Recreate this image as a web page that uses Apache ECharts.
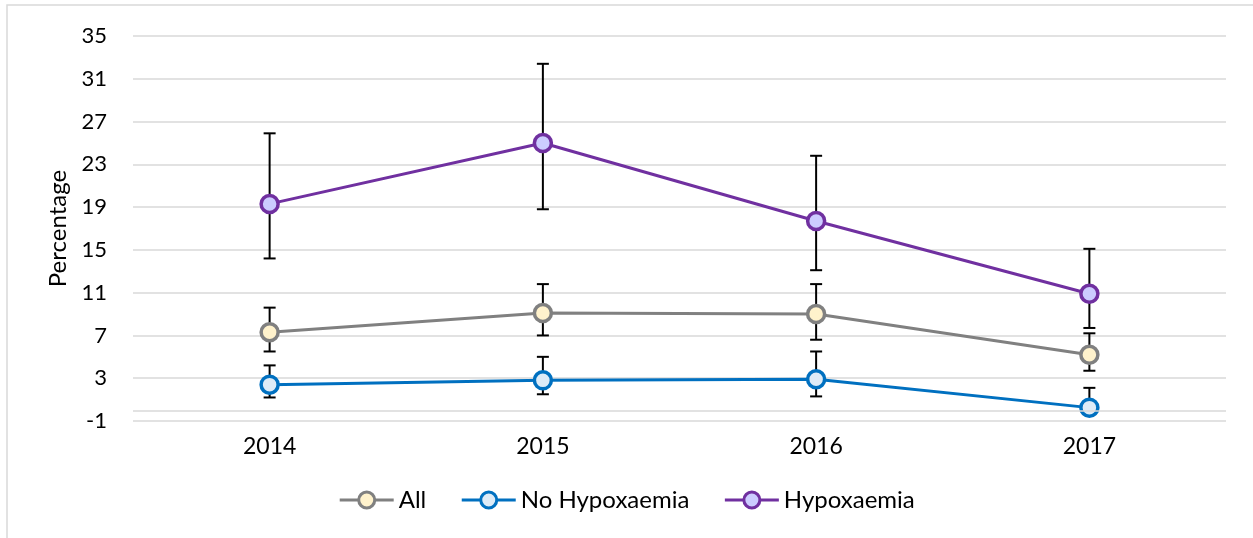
<!DOCTYPE html>
<html><head><meta charset="utf-8">
<script src="https://cdn.jsdelivr.net/npm/echarts@6/dist/echarts.min.js"></script>
<style>html,body{margin:0;padding:0;background:#fff}#c{width:1253px;height:538px}</style>
</head><body><div id="c"></div>
<script>
const categories = ['2014', '2015', '2016', '2017'];
const allValues = [7.3, 9.1, 9.0, 5.2];
const allLower = [5.5, 7.0, 6.6, 3.7];
const allUpper = [9.6, 11.8, 11.8, 7.2];
const noHypValues = [2.4, 2.8, 2.9, 0.25];
const noHypLower = [1.2, 1.5, 1.3, 0.0];
const noHypUpper = [4.2, 5.0, 5.5, 2.1];
const hypValues = [19.3, 25.0, 17.7, 10.9];
const hypLower = [14.2, 18.8, 13.1, 7.7];
const hypUpper = [25.9, 32.4, 23.8, 15.1];
const yTicks = [-1, 3, 7, 11, 15, 19, 23, 27, 31, 35];

const font = 'Lato, "Open Sans", sans-serif';
const chart = echarts.init(document.getElementById('c'));

function errData(lo, hi) { return categories.map((c, i) => [i, lo[i], hi[i]]); }
function errSeries(lo, hi) {
  return {
    type: 'custom', z: 1, silent: true,
    data: errData(lo, hi),
    renderItem: function (params, api) {
      const x = api.value(0);
      const p1 = api.coord([x, api.value(1)]);
      const p2 = api.coord([x, api.value(2)]);
      const hw = 6;
      const st = { stroke: '#000', lineWidth: 2 };
      return { type: 'group', children: [
        { type: 'line', shape: { x1: p1[0], y1: p1[1], x2: p2[0], y2: p2[1] }, style: st },
        { type: 'line', shape: { x1: p1[0] - hw, y1: p1[1], x2: p1[0] + hw, y2: p1[1] }, style: st },
        { type: 'line', shape: { x1: p2[0] - hw, y1: p2[1], x2: p2[0] + hw, y2: p2[1] }, style: st }
      ]};
    }
  };
}
function lineSeries(name, vals, color, fill) {
  return {
    name: name, type: 'line', data: vals, z: 3,
    symbol: 'circle', symbolSize: 17,
    lineStyle: { color: color, width: 3 },
    itemStyle: { color: fill, borderColor: color, borderWidth: 3.5 },
    emphasis: { disabled: true }
  };
}

chart.setOption({
  animation: false,
  grid: { left: 133, right: 27, top: 36, bottom: 117 },
  graphic: [{ type: 'rect', shape: { x: 7, y: 5, width: 1300, height: 600 },
    style: { fill: 'none', stroke: '#D9D9D9', lineWidth: 1.5 }, z: -10 }],
  legend: {
    bottom: 21, left: 'center', itemGap: 34, itemWidth: 54, itemHeight: 20,
    lineStyle: { width: 3 },
    itemStyle: { borderWidth: 3 },
    textStyle: { fontFamily: font, fontSize: 24, color: '#000' },
    data: ['All', 'No Hypoxaemia', 'Hypoxaemia']
  },
  xAxis: {
    type: 'category', data: categories, boundaryGap: true,
    axisLine: { show: false }, axisTick: { show: false },
    axisLabel: { fontFamily: font, fontSize: 23, color: '#000', margin: 14 }
  },
  yAxis: {
    type: 'value', min: -1, max: 35, interval: 4,
    name: 'Percentage', nameLocation: 'middle', nameGap: 62,
    nameTextStyle: { fontFamily: font, fontSize: 24, color: '#000' },
    axisLine: { show: false }, axisTick: { show: false },
    axisLabel: { fontFamily: font, fontSize: 22, color: '#000', margin: 26,
      formatter: v => yTicks.includes(v) ? String(v) : '' },
    splitLine: { lineStyle: { color: '#D9D9D9', width: 1.5 } }
  },
  series: [
    errSeries(allLower, allUpper),
    errSeries(noHypLower, noHypUpper),
    errSeries(hypLower, hypUpper),
    Object.assign(lineSeries('All', allValues, '#808080', '#FFF2CC'), {
      markLine: { silent: true, symbol: 'none', label: { show: false },
        lineStyle: { color: '#D9D9D9', width: 1.5, type: 'solid' }, data: [{ yAxis: 0 }] }
    }),
    lineSeries('No Hypoxaemia', noHypValues, '#0070C0', '#DDEBF7'),
    lineSeries('Hypoxaemia', hypValues, '#7030A0', '#CCCCFF')
  ]
});
</script></body></html>
